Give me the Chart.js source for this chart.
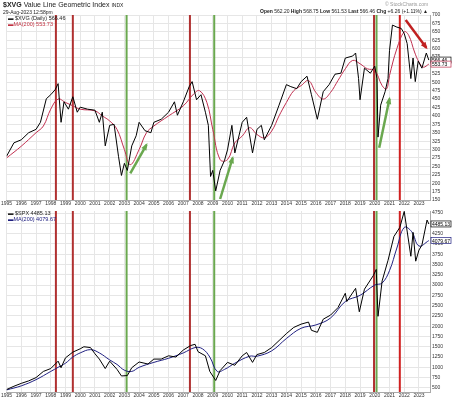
<!DOCTYPE html>
<html><head><meta charset="utf-8">
<script src="https://cdn.jsdelivr.net/npm/chart.js@4"></script>
<style>
body{margin:0;width:452px;height:400px;background:#fff;font-family:"Liberation Sans",Arial,sans-serif;overflow:hidden;position:relative}
.t{position:absolute;font-size:6px;color:#222;white-space:nowrap;z-index:2}
canvas{position:absolute;left:0}
</style></head><body>
<div class="t" style="left:3px;top:1px;font-size:7px"><b>$XVG</b> Value Line Geometric Index <span style="font-size:5px">INDX</span></div>
<div class="t" style="left:3px;top:9px;font-size:5px">29-Aug-2023 12:58pm</div>
<div class="t" style="left:260px;top:8px;font-size:5px"><b>Open</b> 562.20 <b>High</b> 568.75 <b>Low</b> 561.53 <b>Last</b> 566.46 <b>Chg</b> +6.26 (+1.11%) ▲</div>
<div class="t" style="left:385px;top:1px;font-size:5px;color:#999">© StockCharts.com</div>
<div class="t" style="left:8px;top:15px;font-size:5.5px">▬ $XVG (Daily) 566.46</div>
<div class="t" style="left:8px;top:21px;font-size:5.5px;color:#c03040">▬MA(200) 553.73</div>
<div class="t" style="left:8px;top:210px;font-size:5.5px">▬ $SPX 4485.13</div>
<div class="t" style="left:8px;top:216px;font-size:5.5px;color:#202080">▬MA(200) 4079.67</div>
<canvas id="c1" style="top:0" width="452" height="208"></canvas>
<canvas id="c2" style="top:206px" width="452" height="194"></canvas>
<script>
const xvgYears=[1995,1995.5,1996,1996.5,1997,1997.3,1997.7,1998,1998.3,1998.5,1998.7,1998.9,1999.2,1999.5,1999.8,2000,2000.5,2001,2001.3,2001.5,2001.7,2002,2002.3,2002.6,2002.8,2003,2003.2,2003.5,2003.8,2004,2004.4,2004.8,2005,2005.5,2006,2006.4,2006.6,2007,2007.4,2007.6,2007.9,2008.2,2008.5,2008.7,2008.85,2009,2009.2,2009.5,2009.8,2010,2010.3,2010.5,2011,2011.3,2011.7,2012,2012.3,2012.5,2013,2013.5,2014,2014.3,2014.7,2015,2015.4,2015.7,2016.1,2016.5,2016.9,2017.3,2017.7,2018,2018.5,2018.7,2018.9,2019,2019.3,2019.7,2020,2020.15,2020.22,2020.4,2020.7,2020.9,2021,2021.2,2021.5,2021.8,2022,2022.2,2022.45,2022.6,2022.75,2022.95,2023.2,2023.5,2023.67];
const xvgValues=[280,320,329,350,360,381,451,463,478,496,381,442,420,457,411,426,420,417,381,411,311,372,375,280,223,259,238,311,341,381,356,350,381,390,411,442,402,442,487,502,448,463,411,372,220,238,177,238,268,299,372,290,381,396,290,360,372,329,372,432,493,487,481,502,518,463,390,472,493,524,527,572,578,587,511,448,542,527,548,511,337,432,472,511,594,670,664,660,645,615,511,572,502,563,542,587,566];
const xvgMaYears=[1995,1996,1997,1997.5,1998,1998.5,1999,1999.5,2000,2001,2001.5,2002,2002.5,2003,2003.4,2004,2004.5,2005,2006,2007,2007.7,2008.1,2008.6,2009,2009.5,2010,2010.5,2011,2011.5,2012,2012.5,2013,2013.5,2014,2014.5,2015,2015.5,2016,2016.5,2017,2017.5,2018,2018.5,2019,2019.5,2020,2020.5,2020.8,2021,2021.5,2022,2022.3,2022.7,2023,2023.3,2023.67];
const xvgMaValues=[275,310,350,370,420,450,440,430,420,415,400,385,360,300,255,300,350,370,400,430,465,475,440,360,270,270,320,340,365,345,335,355,400,440,475,490,505,470,450,470,505,540,565,555,540,535,490,480,520,600,650,640,590,560,545,554];
const spxYears=[1995,1995.5,1996,1996.5,1997,1997.5,1998,1998.5,1998.7,1999,1999.5,2000,2000.25,2000.7,2001,2001.3,2001.7,2002,2002.5,2002.8,2003.2,2003.5,2004,2004.6,2005,2005.5,2006,2006.5,2007,2007.5,2007.8,2008,2008.5,2008.8,2009.2,2009.5,2010,2010.5,2011,2011.3,2011.7,2012,2012.5,2013,2013.5,2014,2014.5,2015,2015.5,2015.7,2016.1,2016.5,2017,2017.5,2018,2018.1,2018.7,2018.95,2019.3,2019.9,2020.1,2020.22,2020.5,2020.9,2021.3,2021.7,2022,2022.45,2022.6,2022.78,2023,2023.2,2023.55,2023.67];
const spxValues=[460,540,610,670,750,900,970,1150,990,1230,1370,1450,1500,1480,1330,1200,970,1150,950,790,800,990,1130,1080,1200,1200,1280,1250,1420,1530,1560,1380,1280,900,680,920,1120,1050,1280,1360,1120,1310,1360,1480,1650,1820,1970,2050,2100,1900,1850,2170,2270,2450,2800,2600,2920,2350,2900,3230,3380,2240,3100,3600,4180,4400,4790,3700,4280,3580,3850,3970,4580,4485];
const spxMaYears=[1995,1996,1997,1998,1998.5,1999,1999.5,2000,2000.7,2001.3,2002,2002.5,2003,2003.5,2004,2005,2006,2007,2007.8,2008.3,2008.8,2009.3,2009.8,2010.5,2011.5,2012,2013,2014,2015,2016,2017,2018,2019,2020,2020.5,2021,2021.5,2022,2022.5,2023,2023.67];
const spxMaValues=[450,550,700,900,1000,1100,1250,1350,1430,1350,1180,1070,930,900,1000,1120,1220,1350,1480,1450,1250,900,950,1100,1270,1270,1400,1700,1950,2030,2200,2600,2750,3000,3050,3350,3900,4400,4300,3950,4080];
const yearTicks=[1995,1996,1997,1998,1999,2000,2001,2002,2003,2004,2005,2006,2007,2008,2009,2010,2011,2012,2013,2014,2015,2016,2017,2018,2019,2020,2021,2022,2023];
const xvgTicks=[150,175,200,225,250,275,300,325,350,375,400,425,450,475,500,525,550,575,600,625,650,675,700];
const spxTicks=[500,750,1000,1250,1500,1750,2000,2250,2500,2750,3000,3250,3500,3750,4000,4250,4500,4750];
const eventYears=[1998.35,1999.5,2003.15,2007.45,2009.1,2019.95,2020.12,2021.7];
const eventColors=['#b03030','#b03030','#6aa84f','#b03030','#6aa84f','#b03030','#6aa84f','#d02020'];
const arrows=[[2003.4,229,2004.5,314,'#6aa84f'],[2009.5,153,2010.35,275,'#6aa84f'],[2020.3,305,2021.0,451,'#6aa84f'],[2022.1,685,2023.5,603,'#c02020']];

const pts=(xs,ys)=>xs.map((x,i)=>({x,y:ys[i]}));
const evPlugin={id:'ev',beforeDatasetsDraw(ch){const c=ch.ctx,a=ch.chartArea,s=ch.scales.x;c.save();c.lineWidth=2;
 eventYears.forEach((y,i)=>{const px=s.getPixelForValue(y);c.strokeStyle=eventColors[i];c.beginPath();c.moveTo(px,a.top);c.lineTo(px,a.bottom);c.stroke();});c.restore();}};
const arrowPlugin={id:'arr',afterDatasetsDraw(ch){if(ch.canvas.id!=='c1')return;const c=ch.ctx,sx=ch.scales.x,sy=ch.scales.y;c.save();c.lineWidth=2.5;
 arrows.forEach(a=>{const x1=sx.getPixelForValue(a[0]),y1=sy.getPixelForValue(a[1]),x2=sx.getPixelForValue(a[2]),y2=sy.getPixelForValue(a[3]);
 c.strokeStyle=a[4];c.fillStyle=a[4];c.beginPath();c.moveTo(x1,y1);c.lineTo(x2,y2);c.stroke();const ang=Math.atan2(y2-y1,x2-x1);
 c.beginPath();c.moveTo(x2+2*Math.cos(ang),y2+2*Math.sin(ang));c.lineTo(x2-6*Math.cos(ang-0.5),y2-6*Math.sin(ang-0.5));c.lineTo(x2-6*Math.cos(ang+0.5),y2-6*Math.sin(ang+0.5));c.closePath();c.fill();});c.restore();}};
const tagPlugin={id:'tag',afterDraw(ch){const c=ch.ctx,sy=ch.scales.y,a=ch.chartArea;c.save();c.font='5px Liberation Sans';
 ch.data.datasets.forEach(d=>{const v=d.data[d.data.length-1].y;const py=sy.getPixelForValue(v);c.fillStyle='#fff';c.strokeStyle=d.borderColor;c.lineWidth=0.7;
 c.fillRect(a.right+1,py-3,20,6);c.strokeRect(a.right+1,py-3,20,6);c.fillStyle='#000';c.fillText(d.tagText,a.right+2,py+2);});c.restore();}};

function mk(id,series,ma,maColor,ymin,ymax,yt,tags){
 return new Chart(document.getElementById(id),{type:'line',
 data:{datasets:[{data:series,borderColor:'#000',borderWidth:1,pointRadius:0,tension:0,tagText:tags[0]},
  {data:ma,borderColor:maColor,borderWidth:1,pointRadius:0,tension:0.4,tagText:tags[1]}]},
 options:{responsive:false,animation:false,devicePixelRatio:1,
  layout:{padding:{top:id==='c1'?15:4,left:4,right:0,bottom:0}},
  plugins:{legend:{display:false},tooltip:{enabled:false}},
  scales:{x:{type:'linear',min:1995,max:2023.75,afterBuildTicks:ax=>{ax.ticks=yearTicks.map(v=>({value:v}));},
    ticks:{font:{size:5},color:'#333',maxRotation:0,autoSkip:false,padding:1,callback:v=>String(v)},grid:{color:'#e6e6e6',drawTicks:false},border:{color:'#aaa'}},
   y:{position:'right',min:ymin,max:ymax,afterBuildTicks:ax=>{ax.ticks=yt.map(v=>({value:v}));},
    ticks:{font:{size:5},color:'#333',padding:2,autoSkip:false,callback:v=>String(v)},grid:{color:'#e6e6e6',drawTicks:false},border:{color:'#aaa'},afterFit:ax=>{ax.width=22;}}}},
 plugins:[evPlugin,arrowPlugin,tagPlugin]});}
mk('c1',pts(xvgYears,xvgValues),pts(xvgMaYears,xvgMaValues),'#c03050',150,700,xvgTicks,['566.46','553.73']);
mk('c2',pts(spxYears,spxValues),pts(spxMaYears,spxMaValues),'#202080',400,4800,spxTicks,['4485.13','4079.67']);
</script></body></html>
